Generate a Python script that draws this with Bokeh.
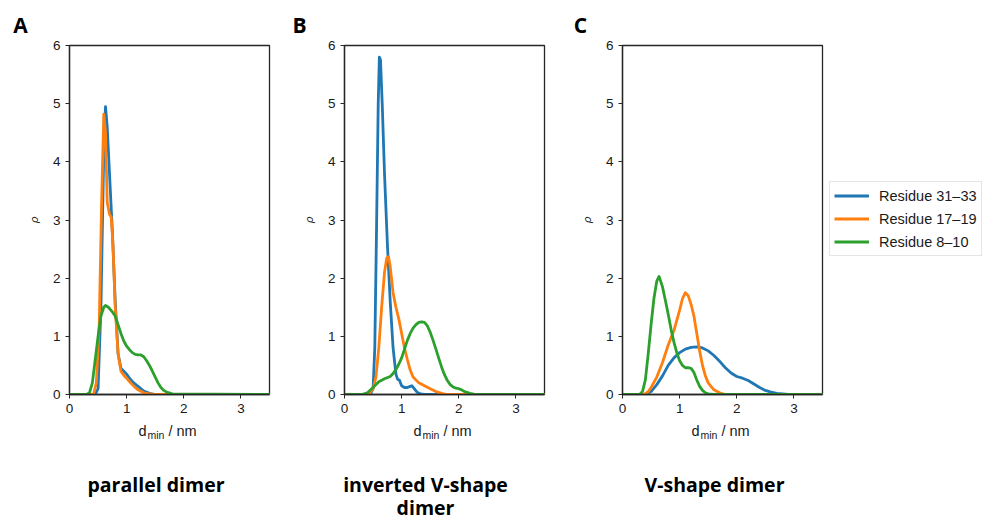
from bokeh.plotting import figure
from bokeh.models import Range1d, Label, Legend, LegendItem, FixedTicker
from bokeh.layouts import row, column
from bokeh.embed import file_html
from bokeh.resources import INLINE

# ---------------- data ----------------
series_names = ["Residue 31\u201333", "Residue 17\u201319", "Residue 8\u201310"]
colors = ["#1f77b4", "#ff7f0e", "#2ca02c"]
panel_letters = ["A", "B", "C"]
panel_titles = [["parallel dimer"], ["inverted V-shape", "dimer"], ["V-shape dimer"]]
x_ticks = [0, 1, 2, 3]
y_ticks = [0, 1, 2, 3, 4, 5, 6]

# Panel A: parallel dimer
a_blue_x = [0, 0.45, 0.5, 0.55, 0.6, 0.63, 0.66, 0.7, 0.75, 0.8, 0.85, 0.9, 0.95, 1.0, 1.05, 1.1, 1.15, 1.2, 1.3, 1.4, 1.5, 3.5]
a_blue_y = [0, 0, 0.1, 1.5, 4.2, 4.95, 4.6, 3.8, 2.8, 1.6, 0.7, 0.45, 0.4, 0.35, 0.28, 0.22, 0.18, 0.14, 0.06, 0.02, 0, 0]
a_orange_x = [0, 0.42, 0.47, 0.52, 0.56, 0.6, 0.63, 0.66, 0.7, 0.73, 0.76, 0.8, 0.85, 0.9, 0.95, 1.0, 1.05, 1.1, 1.15, 1.2, 1.3, 1.4, 1.5, 3.5]
a_orange_y = [0, 0, 0.2, 1.2, 3.2, 4.82, 4.5, 3.3, 3.1, 3.05, 2.6, 1.5, 0.7, 0.4, 0.33, 0.28, 0.22, 0.17, 0.12, 0.08, 0.03, 0.01, 0, 0]
a_green_x = [0, 0.3, 0.35, 0.4, 0.45, 0.5, 0.55, 0.6, 0.63, 0.68, 0.75, 0.8, 0.85, 0.9, 0.95, 1.0, 1.05, 1.1, 1.15, 1.2, 1.25, 1.3, 1.35, 1.4, 1.45, 1.5, 1.55, 1.6, 1.65, 1.7, 1.8, 3.5]
a_green_y = [0, 0, 0.03, 0.2, 0.6, 1.0, 1.35, 1.5, 1.53, 1.5, 1.42, 1.35, 1.2, 1.05, 0.92, 0.83, 0.77, 0.72, 0.69, 0.68, 0.68, 0.65, 0.58, 0.5, 0.4, 0.3, 0.2, 0.12, 0.07, 0.04, 0.01, 0]

# Panel B: inverted V-shape dimer
b_blue_x = [0, 0.45, 0.5, 0.53, 0.56, 0.59, 0.61, 0.63, 0.66, 0.7, 0.75, 0.8, 0.85, 0.9, 0.93, 0.96, 1.0, 1.05, 1.1, 1.15, 1.18, 1.22, 1.27, 1.33, 1.4, 3.5]
b_blue_y = [0, 0, 0.1, 0.8, 2.8, 5.0, 5.8, 5.75, 5.0, 3.8, 2.6, 1.6, 0.8, 0.35, 0.26, 0.25, 0.15, 0.12, 0.12, 0.14, 0.15, 0.1, 0.04, 0.01, 0, 0]
b_orange_x = [0, 0.42, 0.5, 0.55, 0.6, 0.65, 0.7, 0.74, 0.77, 0.8, 0.85, 0.9, 0.95, 1.0, 1.05, 1.1, 1.15, 1.2, 1.3, 1.4, 1.5, 1.6, 1.7, 1.8, 3.5]
b_orange_y = [0, 0, 0.1, 0.3, 0.8, 1.5, 2.1, 2.35, 2.37, 2.2, 1.75, 1.5, 1.3, 1.05, 0.8, 0.6, 0.42, 0.3, 0.2, 0.15, 0.1, 0.05, 0.02, 0, 0]
b_green_x = [0, 0.3, 0.4, 0.5, 0.6, 0.7, 0.8, 0.85, 0.9, 0.95, 1.0, 1.05, 1.1, 1.15, 1.2, 1.25, 1.3, 1.35, 1.4, 1.45, 1.5, 1.55, 1.6, 1.65, 1.7, 1.75, 1.8, 1.85, 1.9, 1.95, 2.0, 2.05, 2.1, 2.2, 2.3, 3.5]
b_green_y = [0, 0, 0.03, 0.12, 0.22, 0.27, 0.31, 0.36, 0.43, 0.52, 0.63, 0.78, 0.93, 1.05, 1.14, 1.2, 1.24, 1.25, 1.24, 1.18, 1.07, 0.93, 0.78, 0.62, 0.47, 0.34, 0.24, 0.17, 0.13, 0.11, 0.1, 0.08, 0.05, 0.02, 0, 0]

# Panel C: V-shape dimer
c_blue_x = [0, 0.4, 0.5, 0.6, 0.7, 0.8, 0.9, 1.0, 1.1, 1.2, 1.3, 1.4, 1.5, 1.6, 1.7, 1.8, 1.9, 2.0, 2.1, 2.2, 2.3, 2.4, 2.5, 2.6, 2.7, 2.8, 2.9, 3.0, 3.5]
c_blue_y = [0, 0, 0.05, 0.17, 0.32, 0.5, 0.63, 0.72, 0.78, 0.81, 0.82, 0.8, 0.75, 0.67, 0.57, 0.46, 0.37, 0.31, 0.28, 0.24, 0.18, 0.12, 0.07, 0.04, 0.02, 0.01, 0, 0, 0]
c_orange_x = [0, 0.38, 0.45, 0.5, 0.6, 0.7, 0.8, 0.9, 1.0, 1.05, 1.1, 1.15, 1.2, 1.25, 1.3, 1.35, 1.4, 1.45, 1.5, 1.6, 1.7, 1.8, 3.5]
c_orange_y = [0, 0, 0.05, 0.12, 0.3, 0.55, 0.85, 1.1, 1.45, 1.65, 1.75, 1.7, 1.55, 1.35, 1.05, 0.75, 0.5, 0.32, 0.2, 0.08, 0.03, 0, 0]
c_green_x = [0, 0.3, 0.35, 0.4, 0.45, 0.5, 0.55, 0.6, 0.64, 0.7, 0.75, 0.8, 0.85, 0.9, 0.95, 1.0, 1.05, 1.1, 1.15, 1.2, 1.25, 1.3, 1.35, 1.4, 1.45, 1.5, 1.6, 3.5]
c_green_y = [0, 0, 0.05, 0.25, 0.7, 1.2, 1.65, 1.95, 2.03, 1.85, 1.62, 1.38, 1.12, 0.9, 0.72, 0.58, 0.5, 0.46, 0.46, 0.45, 0.38, 0.25, 0.14, 0.07, 0.03, 0.01, 0, 0]

panels = [
    [(a_blue_x, a_blue_y), (a_orange_x, a_orange_y), (a_green_x, a_green_y)],
    [(b_blue_x, b_blue_y), (b_orange_x, b_orange_y), (b_green_x, b_green_y)],
    [(c_blue_x, c_blue_y), (c_orange_x, c_orange_y), (c_green_x, c_green_y)],
]

# ---------------- layout (pixels) ----------------
PAGE_W = 995
TOP_H = 37          # strip holding the panel letters
PLOT_TOP = 8        # gap above the frames inside the plot figures
FRAME_W = 200
FRAME_H = 349
PLOT_BOTTOM = 30    # room for tick labels
BOTTOM_H = 99       # strip holding axis labels and panel titles
PLOT_H = PLOT_TOP + FRAME_H + PLOT_BOTTOM
frame_left = [69, 344, 622]
TICK_FONT = "Liberation Sans"
TITLE_FONT = "Open Sans"
AX_COLOR = "#262626"
TXT_COLOR = "#1a1a1a"
LINE_W = 2.8


def blank(width, height, x0, y_top):
    s = figure(width=width, height=height, x_range=Range1d(x0, x0 + width),
               y_range=Range1d(y_top + height, y_top),
               output_backend="svg", toolbar_location=None,
               x_axis_type=None, y_axis_type=None, min_border=0)
    s.min_border_left = s.min_border_right = s.min_border_top = s.min_border_bottom = 0
    s.outline_line_color = None
    s.xgrid.visible = False
    s.ygrid.visible = False
    s.background_fill_color = "white"
    s.border_fill_color = "white"
    return s


top = blank(PAGE_W, TOP_H, 0, 0)
bottom = blank(PAGE_W, BOTTOM_H, 0, TOP_H + PLOT_H)

figs = []
prev_end = 0
for i in range(3):
    bl = frame_left[i] - prev_end
    br = 2
    p = figure(frame_width=FRAME_W, frame_height=FRAME_H,
               x_range=Range1d(0, 3.5), y_range=Range1d(0, 6),
               output_backend="svg", toolbar_location=None,
               min_border_left=bl, min_border_right=br,
               min_border_top=PLOT_TOP, min_border_bottom=PLOT_BOTTOM)
    prev_end = frame_left[i] + FRAME_W + br
    p.background_fill_color = "white"
    p.border_fill_color = "white"
    p.outline_line_color = AX_COLOR
    p.outline_line_width = 1.3
    p.outline_line_alpha = 1.0
    p.xgrid.visible = False
    p.ygrid.visible = False
    for ax in (p.xaxis[0], p.yaxis[0]):
        ax.axis_line_color = AX_COLOR
        ax.axis_line_width = 1.3
        ax.major_tick_line_color = AX_COLOR
        ax.major_tick_line_width = 1
        ax.major_tick_out = 4
        ax.major_tick_in = 0
        ax.minor_tick_line_color = None
        ax.major_label_text_font = TICK_FONT
        ax.major_label_text_font_size = "13.5px"
        ax.major_label_text_color = TXT_COLOR
    p.xaxis[0].ticker = FixedTicker(ticks=x_ticks)
    p.yaxis[0].ticker = FixedTicker(ticks=y_ticks)
    p.xaxis[0].major_label_standoff = 5
    p.yaxis[0].major_label_standoff = 5
    p.yaxis[0].axis_label = "\u03c1"
    p.yaxis[0].axis_label_text_font = "DejaVu Sans"
    p.yaxis[0].axis_label_text_font_style = "italic"
    p.yaxis[0].axis_label_text_font_size = "11px"
    p.yaxis[0].axis_label_text_color = TXT_COLOR
    p.yaxis[0].axis_label_standoff = 9

    for (xs, ys), col in zip(panels[i], colors):
        p.line(xs, ys, line_color=col, line_width=LINE_W, line_join="round", line_cap="round")
    figs.append(p)

    # panel letter (top strip)
    top.add_layout(Label(x=[20, 299, 580][i], y=24, text=panel_letters[i],
                         text_font=TITLE_FONT, text_font_style="bold",
                         text_font_size="21px", text_baseline="middle", text_align="center",
                         text_color="black"))
    # x axis label  d_min / nm  (bottom strip)
    cx = frame_left[i] + FRAME_W / 2
    ly = 430
    bottom.add_layout(Label(x=cx - 31, y=ly, text="d", text_font=TICK_FONT,
                            text_font_size="14.5px", text_baseline="middle",
                            text_align="left", text_color=TXT_COLOR))
    bottom.add_layout(Label(x=cx - 22, y=ly + 4, text="min", text_font=TICK_FONT,
                            text_font_size="10.5px", text_baseline="middle",
                            text_align="left", text_color=TXT_COLOR))
    bottom.add_layout(Label(x=cx - 1, y=ly, text="/ nm", text_font=TICK_FONT,
                            text_font_size="14.5px", text_baseline="middle",
                            text_align="left", text_color=TXT_COLOR))
    # panel titles
    title_cx = [155.5, 425, 714][i]
    for k, t in enumerate(panel_titles[i]):
        bottom.add_layout(Label(x=title_cx, y=484 + 23 * k, text=t, text_font=TITLE_FONT,
                                text_font_style="bold", text_font_size="19.5px",
                                text_baseline="alphabetic", text_align="center",
                                text_color="black"))

# legend in its own strip to the right of panel C
leg_x0 = prev_end
leg = blank(PAGE_W - leg_x0, PLOT_H, leg_x0, TOP_H)
# proxy lines: panel C series, lying outside this strip's visible range
proxies = [leg.line(xs, ys, line_color=c, line_width=LINE_W)
           for (xs, ys), c in zip(panels[2], colors)]
items = [LegendItem(label=n, renderers=[r]) for n, r in zip(series_names, proxies)]
legend = Legend(items=items, location=(5, 138))
legend.label_text_font = TICK_FONT
legend.label_text_font_size = "14.5px"
legend.label_text_color = TXT_COLOR
legend.glyph_width = 35
legend.glyph_height = 19
legend.label_height = 19
legend.spacing = 4
legend.padding = 4
legend.label_standoff = 10
legend.border_line_color = "#cccccc"
legend.border_line_width = 1
legend.background_fill_alpha = 1.0
legend.margin = 0
leg.add_layout(legend, "center")

layout = column(top, row(*figs, leg), bottom)
open("out.html", "w").write(file_html(layout, INLINE))
